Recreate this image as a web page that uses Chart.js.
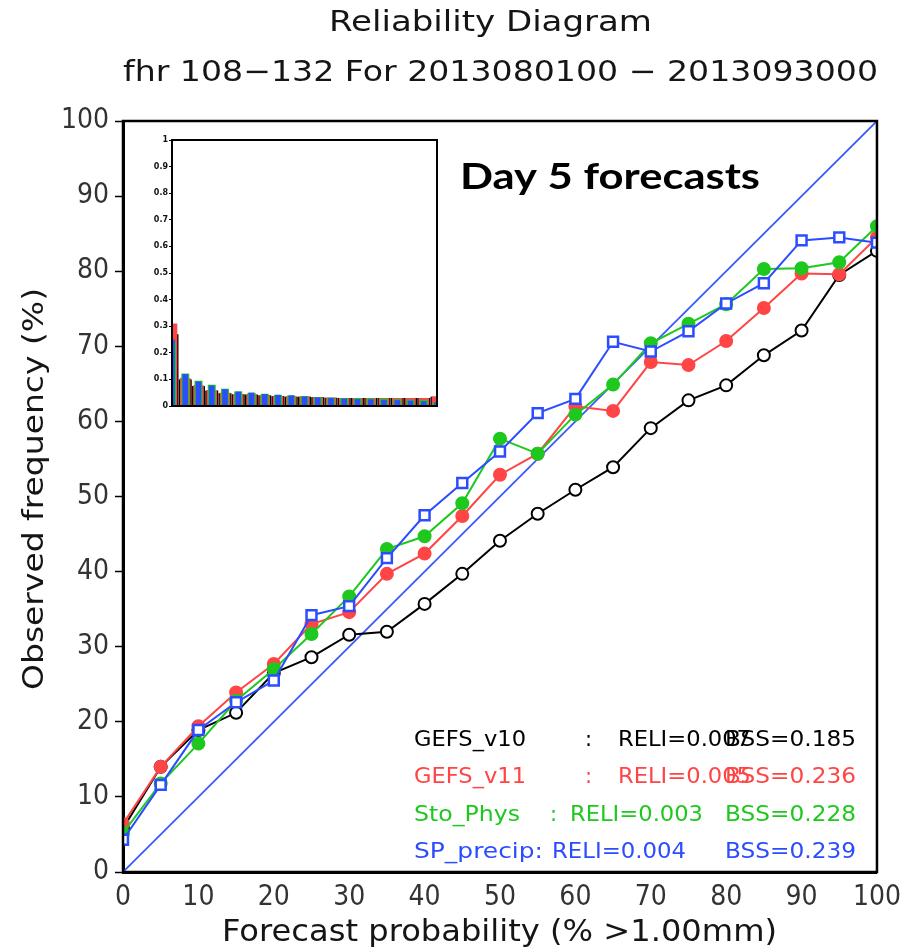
<!DOCTYPE html>
<html>
<head>
<meta charset="utf-8">
<script src="https://cdn.jsdelivr.net/npm/chart.js@4.4.1/dist/chart.umd.min.js"></script>
<style>
  html, body { margin: 0; padding: 0; background: #fff; }
  #wrap { position: relative; width: 910px; height: 951px; }
  #main { position: absolute; left: 0; top: 0; }
  #inset { position: absolute; left: 130px; top: 128px; }
</style>
</head>
<body>
<div id="wrap">
  <canvas id="main" width="910" height="951"></canvas>
  <canvas id="inset" width="315" height="288"></canvas>
</div>
<script>
// Forecast probability bins (%)
const forecastProb = [0, 5, 10, 15, 20, 25, 30, 35, 40, 45, 50, 55, 60, 65, 70, 75, 80, 85, 90, 95, 100];

// Observed frequency (%) per bin for each experiment
const gefsV10  = [5.8, 14.0, 18.9, 21.2, 26.5, 28.6, 31.6, 32.0, 35.7, 39.7, 44.1, 47.7, 50.9, 53.9, 59.1, 62.8, 64.8, 68.8, 72.1, 79.5, 82.7];
const gefsV11  = [6.4, 14.0, 19.4, 23.9, 27.7, 33.0, 34.6, 39.7, 42.4, 47.4, 52.9, 55.7, 62.0, 61.4, 67.9, 67.5, 70.7, 75.1, 79.7, 79.6, 84.5];
const stoPhys  = [5.2, 11.8, 17.1, 22.8, 27.0, 31.7, 36.7, 43.0, 44.7, 49.1, 57.7, 55.7, 60.9, 64.9, 70.4, 73.0, 75.6, 80.3, 80.4, 81.2, 86.0];
const spPrecip = [4.3, 11.6, 18.9, 22.6, 25.5, 34.2, 35.4, 41.8, 47.5, 51.8, 56.0, 61.1, 63.0, 70.6, 69.3, 72.0, 75.7, 78.4, 84.1, 84.5, 83.8];

// Perfect-reliability diagonal
const diagonalX = [0, 100];
const diagonalY = [0, 100];

// Axis tick values
const axisTicks = [0, 10, 20, 30, 40, 50, 60, 70, 80, 90, 100];

// Scores shown in the key
const seriesNames = ['GEFS_v10', 'GEFS_v11', 'Sto_Phys', 'SP_precip'];
const reliScores  = ['0.007', '0.005', '0.003', '0.004'];
const bssScores   = ['0.185', '0.236', '0.228', '0.239'];

// Sharpness histogram: relative frequency of forecasts per bin
const histBins  = ['0', '5', '10', '15', '20', '25', '30', '35', '40', '45', '50', '55', '60', '65', '70', '75', '80', '85', '90', '95', '100'];
const histV10   = [0.27, 0.100, 0.075, 0.058, 0.048, 0.044, 0.043, 0.040, 0.037, 0.035, 0.035, 0.033, 0.031, 0.030, 0.030, 0.030, 0.030, 0.030, 0.030, 0.030, 0.035];
const histV11   = [0.31, 0.105, 0.078, 0.060, 0.050, 0.045, 0.044, 0.040, 0.037, 0.036, 0.035, 0.033, 0.031, 0.030, 0.030, 0.030, 0.030, 0.030, 0.030, 0.030, 0.035];
const histSto   = [0.24, 0.122, 0.095, 0.080, 0.065, 0.055, 0.050, 0.046, 0.042, 0.040, 0.037, 0.033, 0.031, 0.030, 0.030, 0.029, 0.028, 0.026, 0.024, 0.023, 0.015];
const histSP    = [0.25, 0.120, 0.092, 0.077, 0.063, 0.054, 0.050, 0.045, 0.042, 0.040, 0.036, 0.032, 0.030, 0.028, 0.026, 0.025, 0.023, 0.022, 0.020, 0.018, 0.014];
const histTicks = [0, 0.1, 0.2, 0.3, 0.4, 0.5, 0.6, 0.7, 0.8, 0.9, 1];

const COLORS = { v10: '#000000', v11: '#ff4545', sto: '#1ec81e', sp: '#2b4cff', diag: '#3a5aff' };
const PLAIN = "'DejaVu Sans', 'Liberation Sans', sans-serif";
const NARROW = "'Liberation Sans Narrow', 'DejaVu Sans Condensed', 'Liberation Sans', sans-serif";

function pts(values) {
  return values.map((v, i) => ({ x: forecastProb[i], y: v }));
}

// Draw a string stretched horizontally to span a given width
function fitText(ctx, text, left, cy, width, font, color) {
  ctx.save();
  ctx.font = font;
  ctx.fillStyle = color;
  ctx.textBaseline = 'middle';
  ctx.textAlign = 'left';
  const w = ctx.measureText(text).width;
  ctx.translate(left, cy);
  ctx.scale(width / w, 1);
  ctx.fillText(text, 0, 0);
  ctx.restore();
}

const decorations = {
  id: 'decorations',
  afterDatasetsDraw(chart) {
    const { ctx, chartArea: a } = chart;
    // plot frame
    ctx.save();
    ctx.strokeStyle = '#000';
    ctx.lineWidth = 2.5;
    ctx.strokeRect(a.left, a.top, a.right - a.left, a.bottom - a.top);
    ctx.restore();
  },
  afterDraw(chart) {
    const { ctx } = chart;
    // titles
    fitText(ctx, 'Reliability Diagram', 329, 23, 323, '29px ' + PLAIN, '#151515');
    fitText(ctx, 'fhr 108\u2212132 For 2013080100 \u2212 2013093000', 123, 73, 755, '29px ' + PLAIN, '#151515');
    // axis titles
    fitText(ctx, 'Forecast probability (% >1.00mm)', 222, 933, 555, '30px ' + PLAIN, '#151515');
    ctx.save();
    ctx.translate(35, 489);
    ctx.rotate(-Math.PI / 2);
    fitText(ctx, 'Observed frequency (%)', -201, 0, 402, '29px ' + PLAIN, '#151515');
    ctx.restore();
    // panel label
    fitText(ctx, 'Day 5 forecasts', 460, 177, 300, 'bold 36px Lato, "Open Sans", sans-serif', '#000');
    // key with scores
    const rows = [
      { y: 741, color: COLORS.v10, nameW: 112, colon: 585, reli: 618, reliW: 133 },
      { y: 778, color: COLORS.v11, nameW: 112, colon: 585, reli: 618, reliW: 133 },
      { y: 816, color: COLORS.sto, nameW: 106, colon: 550, reli: 570, reliW: 133 },
      { y: 853, color: COLORS.sp,  nameW: 129, colon: null, reli: 552, reliW: 134 }
    ];
    const keyFont = '21px ' + PLAIN;
    rows.forEach((r, i) => {
      const name = r.colon === null ? seriesNames[i] + ':' : seriesNames[i];
      fitText(ctx, name, 414, r.y, r.nameW, keyFont, r.color);
      if (r.colon !== null) {
        ctx.save();
        ctx.font = keyFont; ctx.fillStyle = r.color; ctx.textBaseline = 'middle';
        ctx.fillText(':', r.colon, r.y);
        ctx.restore();
      }
      fitText(ctx, 'RELI=' + reliScores[i], r.reli, r.y, r.reliW, keyFont, r.color);
      fitText(ctx, 'BSS=' + bssScores[i], 725, r.y, 131, keyFont, r.color);
    });
  }
};

const lineDefaults = { showLine: true, borderWidth: 2, pointBorderWidth: 2, pointRadius: 6, pointHoverRadius: 6 };

new Chart(document.getElementById('main'), {
  type: 'scatter',
  data: {
    datasets: [
      Object.assign({}, lineDefaults, { label: seriesNames[3], data: pts(spPrecip), borderColor: COLORS.sp, pointBorderColor: COLORS.sp,
        pointBackgroundColor: '#fff', pointStyle: 'rect', pointRadius: 7, pointBorderWidth: 2.5, order: 1 }),
      Object.assign({}, lineDefaults, { label: seriesNames[2], data: pts(stoPhys), borderColor: COLORS.sto, pointBorderColor: COLORS.sto,
        pointBackgroundColor: COLORS.sto, pointStyle: 'circle', order: 2 }),
      Object.assign({}, lineDefaults, { label: seriesNames[1], data: pts(gefsV11), borderColor: COLORS.v11, pointBorderColor: COLORS.v11,
        pointBackgroundColor: COLORS.v11, pointStyle: 'circle', order: 3 }),
      Object.assign({}, lineDefaults, { label: seriesNames[0], data: pts(gefsV10), borderColor: COLORS.v10, pointBorderColor: COLORS.v10,
        pointBackgroundColor: '#fff', pointStyle: 'circle', order: 4 }),
      { label: 'perfect', showLine: true, data: diagonalX.map((x, i) => ({ x, y: diagonalY[i] })), borderColor: COLORS.diag,
        borderWidth: 1.8, pointRadius: 0, order: 5 }
    ]
  },
  options: {
    responsive: false,
    animation: false,
    devicePixelRatio: 1,
    layout: { padding: { left: 0, top: 121, right: 33, bottom: 0 } },
    plugins: { legend: { display: false }, tooltip: { enabled: false }, title: { display: false } },
    scales: {
      x: {
        type: 'linear', min: 0, max: 100,
        afterBuildTicks(s) { s.ticks = axisTicks.map(v => ({ value: v })); },
        afterFit(s) { s.height = 79; },
        border: { display: true, color: '#000', width: 3 },
        grid: { drawOnChartArea: false, drawTicks: false },
        ticks: { padding: 9, color: '#333', font: { family: NARROW, size: 28 }, maxRotation: 0 }
      },
      y: {
        type: 'linear', min: 0, max: 100,
        afterBuildTicks(s) { s.ticks = axisTicks.map(v => ({ value: v })); },
        afterFit(s) { s.width = 123; },
        border: { display: true, color: '#000', width: 3 },
        grid: { drawOnChartArea: false, drawTicks: true, tickLength: 8, tickColor: '#000', tickWidth: 1.5 },
        ticks: { padding: 6, color: '#333', font: { family: NARROW, size: 28 } }
      }
    }
  },
  plugins: [decorations]
});

// Sharpness histogram inset
const insetFrame = {
  id: 'insetFrame',
  beforeDraw(chart) {
    const { ctx, width, height } = chart;
    ctx.save(); ctx.fillStyle = '#fff'; ctx.fillRect(0, 0, width, height); ctx.restore();
  },
  afterDatasetsDraw(chart) {
    const { ctx, chartArea: a } = chart;
    ctx.save();
    ctx.strokeStyle = '#000';
    ctx.lineWidth = 2;
    ctx.strokeRect(a.left, a.top, a.right - a.left, a.bottom - a.top);
    ctx.restore();
  }
};

new Chart(document.getElementById('inset'), {
  type: 'bar',
  data: {
    labels: histBins,
    datasets: [
      { data: histSP,  backgroundColor: COLORS.sp,  barPercentage: 0.42, order: 1, clip: 0 },
      { data: histSto, backgroundColor: COLORS.sto, barPercentage: 0.6,  order: 2, clip: 0 },
      { data: histV11, backgroundColor: COLORS.v11, barPercentage: 0.8,  order: 3, clip: 0 },
      { data: histV10, backgroundColor: COLORS.v10, barPercentage: 0.98, order: 4, clip: 0 }
    ]
  },
  options: {
    responsive: false,
    animation: false,
    devicePixelRatio: 1,
    layout: { padding: { left: 0, top: 12, right: 8, bottom: 0 } },
    datasets: { bar: { grouped: false, categoryPercentage: 1 } },
    plugins: { legend: { display: false }, tooltip: { enabled: false } },
    scales: {
      x: {
        offset: false,
        afterFit(s) { s.height = 10; },
        ticks: { display: false },
        grid: { display: false },
        border: { display: false }
      },
      y: {
        min: 0, max: 1,
        afterBuildTicks(s) { s.ticks = histTicks.map(v => ({ value: v })); },
        afterFit(s) { s.width = 42; },
        border: { display: true, color: '#000', width: 2 },
        grid: { drawOnChartArea: false, drawTicks: true, tickLength: 3, tickColor: '#000' },
        ticks: { padding: 1, color: '#111', font: { family: PLAIN, size: 8, weight: 'bold' },
                 callback: v => String(Math.round(v * 10) / 10) }
      }
    }
  },
  plugins: [insetFrame]
});
</script>
</body>
</html>
